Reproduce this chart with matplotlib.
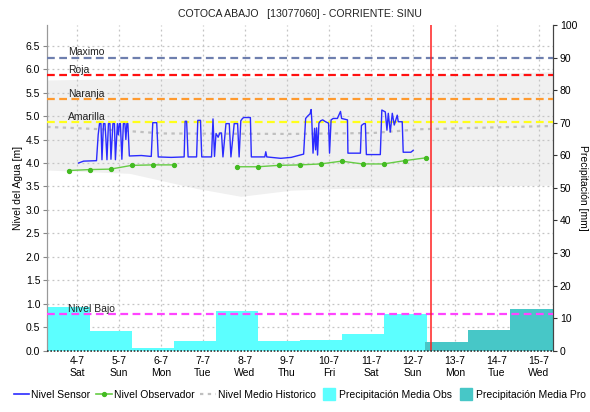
import numpy as np
import matplotlib
matplotlib.use("Agg")
import matplotlib.pyplot as plt
import matplotlib.transforms as mtransforms
from matplotlib.lines import Line2D

# x values are days counted from 4-7 00:00
day_ticks = list(range(12))
day_labels = ["4-7\nSat", "5-7\nSun", "6-7\nMon", "7-7\nTue", "8-7\nWed", "9-7\nThu",
              "10-7\nFri", "11-7\nSat", "12-7\nSun", "13-7\nMon", "14-7\nTue", "15-7\nWed"]

sensor_t = [0.037, 0.156, 0.464,
            0.504, 0.535, 0.570, 0.594, 0.630, 0.665, 0.689, 0.713,
            0.748, 0.784, 0.808, 0.855, 0.891, 0.914,
            0.962, 0.986, 1.009, 1.033, 1.068, 1.104, 1.140, 1.163, 1.187, 1.211, 1.246,
            1.531, 1.768, 1.804, 1.898, 1.934,
            2.242, 2.551, 2.574, 2.610, 2.645,
            2.847, 2.876, 2.940, 2.970,
            3.203, 3.238, 3.274, 3.310, 3.360, 3.400, 3.440, 3.475,
            3.547, 3.625, 3.665, 3.743, 3.824, 3.860,
            3.900, 3.940, 3.970, 4.128, 4.151,
            4.471, 4.495, 4.519, 4.851, 5.100, 5.396,
            5.444, 5.491, 5.550, 5.574, 5.590, 5.620, 5.657, 5.681, 5.705, 5.728,
            5.760, 5.800, 5.850, 5.918, 5.990, 6.013, 6.050, 6.100, 6.200, 6.274,
            6.300, 6.440, 6.451,
            6.748, 6.772, 6.831, 6.866, 6.890,
            7.222, 7.258, 7.341, 7.380, 7.412, 7.459, 7.507, 7.554, 7.625, 7.649,
            7.744, 7.767, 7.950, 8.005]
sensor_h = [4.00, 4.04, 4.05,
            4.60, 4.84, 4.84, 4.07, 4.84, 4.84, 4.50, 4.07,
            4.84, 4.84, 4.08, 4.84, 4.84, 4.07,
            4.84, 4.60, 4.84, 4.84, 4.08, 4.84, 4.84, 4.50, 4.84, 4.84, 4.15,
            4.16, 4.14, 4.86, 4.86, 4.13,
            4.12, 4.13, 4.89, 4.89, 4.13,
            4.13, 4.91, 4.91, 4.13,
            4.13, 4.94, 4.14, 4.63, 4.55, 4.64, 4.64, 4.13,
            4.84, 4.84, 4.13, 4.84, 4.84, 4.13,
            4.90, 4.95, 4.97, 4.97, 4.13,
            4.13, 4.24, 4.13, 4.10, 4.12, 4.19,
            4.95, 5.00, 5.05, 5.14, 4.92, 4.21, 4.74, 4.28, 4.75, 4.17,
            4.85, 4.90, 4.92, 4.88, 4.85, 4.21, 4.92, 4.95, 4.95, 5.10,
            4.95, 4.92, 4.21,
            4.21, 4.80, 4.84, 4.84, 4.18,
            4.18, 5.13, 5.09, 4.70, 5.06, 4.66, 5.06, 4.81, 5.02, 4.88,
            4.88, 4.23, 4.23, 4.27]

obs_t = [-0.2, 0.3, 0.8, 1.3, 1.8, 2.3, None, None,
         3.8, 4.3, 4.8, 5.3, 5.8, 6.3, 6.8, 7.3, 7.8, 8.3]
obs_h = [3.84, 3.86, 3.87, 3.95, 3.96, 3.96, None, None,
         3.92, 3.92, 3.95, 3.96, 3.98, 4.04, 3.98, 3.98, 4.05, 4.11]

hist_t = [-0.71, 0.58, 2.05, 5.09, 7.05, 8.17, 11.33]
hist_mean = [4.77, 4.72, 4.63, 4.62, 4.64, 4.72, 4.79]

band_t = [-0.71, 1.25, 2.84, 3.90, 5.09, 6.27, 8.17, 11.33]
band_low = [3.85, 3.78, 3.46, 3.29, 3.42, 3.46, 3.48, 3.53]
band_high = [5.77, 5.80, 5.81, 5.82, 5.83, 5.84, 5.86, 5.95]

level_names = ["Maximo", "Roja", "Naranja", "Amarilla", "Nivel Bajo"]
level_values = [6.24, 5.87, 5.36, 4.87, 0.78]
level_colors = ["#6e7fae", "#ff1010", "#ff9a2e", "#ffff1a", "#ff44ff"]

rain_obs_edges = [-0.71, 0.32, 1.32, 2.32, 3.32, 4.32, 5.32, 6.32, 7.32, 8.34]
rain_obs = [13.3, 5.9, 0.9, 3.1, 12.3, 3.1, 3.3, 5.2, 11.2]
rain_pro_edges = [8.28, 9.32, 10.32, 11.33]
rain_pro = [2.5, 6.2, 12.8]

now_t = 8.42

plt.rcParams["font.family"] = ["Liberation Sans", "DejaVu Sans"]

fig = plt.figure(figsize=(5.9, 4.12), dpi=100)
ax1 = fig.add_axes([0.080, 0.149, 0.857, 0.790])
ax2 = ax1.twinx()
ax1.set_zorder(2)
ax2.set_zorder(1)
ax1.patch.set_visible(False)

xlim = (-0.71, 11.33)
ylim = (0, 6.94)
ax1.set_xlim(*xlim)
ax1.set_ylim(*ylim)
ax2.set_ylim(0, 100)

# background layer (band, grid, bars) lives on ax2
lvl = ax1.transData
ax2.fill_between(band_t, band_low, band_high, color="#f0f0f0", lw=0, zorder=0.5,
                 transform=lvl)
hy = mtransforms.blended_transform_factory(ax2.transAxes, ax1.transData)
for y in np.arange(0.5, 7.0, 0.5):
    ax2.plot([0, 1], [y, y], transform=hy, color="#c4c4c4", ls=(0, (1.5, 2.5)),
             lw=0.9, zorder=1)
for x in day_ticks:
    ax2.axvline(x, color="#c4c4c4", ls=(0, (1.5, 2.5)), lw=0.9, zorder=1)

obs_w = np.diff(rain_obs_edges)
ax2.bar(rain_obs_edges[:-1], rain_obs, width=obs_w, align="edge", color="#5cffff",
        lw=0, zorder=2)
pro_w = np.diff(rain_pro_edges)
ax2.bar(rain_pro_edges[:-1], rain_pro, width=pro_w, align="edge", color="#47c7c7",
        lw=0, zorder=2.5)
ax2.set_xlim(*xlim)
ax2.set_ylim(0, 100)

# lines on ax1
ax1.plot(hist_t, hist_mean, color="#c0c0c0", ls=(0, (1.5, 2)), lw=1.6, zorder=2)
for name, val, col in zip(level_names, level_values, level_colors):
    ax1.axhline(val, color=col, ls=(0, (3.5, 2)), lw=1.6, zorder=3)
    ax1.text(-0.22, val + 0.01, name, fontsize=7.5, va="bottom", ha="left",
             color="#222222", zorder=4)

ax1.plot(sensor_t, sensor_h, color="#2b2bff", lw=1.0, zorder=5)
ot = np.array([np.nan if v is None else v for v in obs_t], dtype=float)
oh = np.array([np.nan if v is None else v for v in obs_h], dtype=float)
ax1.plot(ot, oh, color="#66cc44", lw=1.0, marker="o", ms=2.8, mfc="#44bb22",
         mec="#44bb22", zorder=5)
ax1.axvline(now_t, color="#ff2020", lw=1.1, zorder=6)

# axes styling
ax1.set_xticks(day_ticks)
ax1.set_xticklabels(day_labels, fontsize=7.5, linespacing=1.2)
ax1.tick_params(axis="x", length=0, pad=4)
ax1.set_yticks(np.arange(0, 6.51, 0.5))
ax1.set_yticklabels([f"{v:.1f}" for v in np.arange(0, 6.51, 0.5)], fontsize=7.5)
ax1.tick_params(axis="y", length=3, color="#888888", pad=2)
ax2.set_yticks(np.arange(0, 101, 10))
ax2.tick_params(axis="y", length=3, color="#333333", labelsize=7.5, pad=2)

for a in (ax1, ax2):
    a.spines["top"].set_visible(False)
    a.spines["left"].set_color("#999999")
    a.spines["right"].set_color("#444444")
    a.spines["bottom"].set_visible(False)
ax1.axhline(0, color="#333333", ls=(0, (1, 1)), lw=1.2, zorder=7, clip_on=False)

fig.text(18 / 590, 0.544, "Nivel del Agua [m]", rotation=90, ha="center",
         va="center", fontsize=7.5)
fig.text(583 / 590, 0.544, "Precipitación [mm]", rotation=270, ha="center",
         va="center", fontsize=7.5)
fig.text(0.508, 0.966, "COTOCA ABAJO   [13077060] - CORRIENTE: SINU", ha="center",
         va="center", fontsize=7.6, color="#222222")

handles = [
    Line2D([], [], color="#2b2bff", lw=1.2),
    Line2D([0, 0.5, 1], [0, 0, 0], color="#66cc44", lw=1.2, marker="o", ms=2.8,
           mfc="#44bb22", mec="#44bb22", markevery=[1]),
    Line2D([], [], color="#c0c0c0", ls=(0, (1.5, 2)), lw=1.6),
    Line2D([], [], color="#5cffff", marker="s", ms=8, ls="none"),
    Line2D([], [], color="#47c7c7", marker="s", ms=8, ls="none"),
]
labels = ["Nivel Sensor", "Nivel Observador", "Nivel Medio Historico",
          "Precipitación Media Obs", "Precipitación Media Pro"]
fig.legend(handles, labels, loc="center", bbox_to_anchor=(0.508, 0.041), ncol=5,
           frameon=False, fontsize=7.5, handlelength=1.5,
           handletextpad=0.2, columnspacing=0.55, borderaxespad=0)

fig.savefig("out.png", dpi=100)
